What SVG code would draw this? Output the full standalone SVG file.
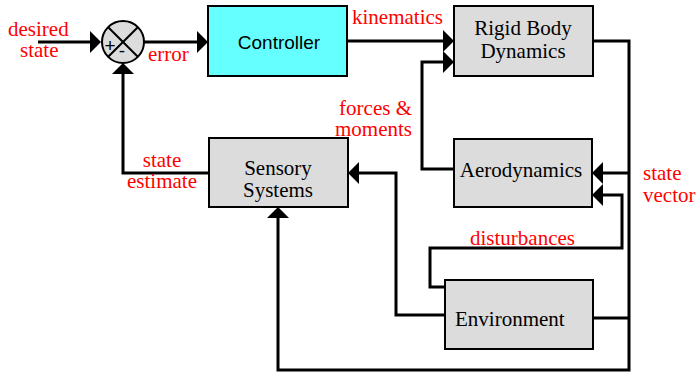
<svg xmlns="http://www.w3.org/2000/svg" width="698" height="372" viewBox="0 0 698 372">
  <style>
    .box { fill: #dcdcdc; stroke: #000; stroke-width: 2; }
    .ctrl { fill: #66ffff; stroke: #000; stroke-width: 2; }
    .serif { font-family: "Liberation Serif", "Times New Roman", serif; font-size: 21px; }
    .sans { font-family: "Liberation Sans", Arial, sans-serif; font-size: 19px; }
    .lbl { fill: #ff0000; }
    .blk { fill: #000; }
    .wire { fill: none; stroke: #000; stroke-width: 3; stroke-linejoin: miter; }
  </style>
  <defs>
    <marker id="arrow" viewBox="0 0 11 22" refX="0" refY="11" markerWidth="11" markerHeight="22" markerUnits="userSpaceOnUse" orient="auto">
      <path d="M0,0 L11,11 L0,22 Z" fill="#000"/>
    </marker>
  </defs>

  <!-- connectors -->
  <g id="connectors">
    <path class="wire" d="M38,42 H90" marker-end="url(#arrow)"/>
    <path class="wire" d="M144,42 H197" marker-end="url(#arrow)"/>
    <path class="wire" d="M347,41 H443" marker-end="url(#arrow)"/>
    <path class="wire" d="M454,169 H422 V62 H443" marker-end="url(#arrow)"/>
    <path class="wire" d="M593,41 H629 V370 H278 V218" marker-end="url(#arrow)"/>
    <path class="wire" d="M629,173 H603" marker-end="url(#arrow)"/>
    <path class="wire" d="M593,318 H629"/>
    <path class="wire" d="M445,287 H430 V248 H622 V195 H603" marker-end="url(#arrow)"/>
    <path class="wire" d="M445,315 H396 V173 H359" marker-end="url(#arrow)"/>
    <path class="wire" d="M209,173 H123 V74" marker-end="url(#arrow)"/>
  </g>

  <!-- summing junction -->
  <g id="sum">
    <circle cx="123" cy="42" r="21" fill="#dcdcdc" stroke="#000" stroke-width="2"/>
    <path d="M108.2,27.2 L137.8,56.8 M137.8,27.2 L108.2,56.8" stroke="#000" stroke-width="2"/>
    <text class="sans blk" x="110" y="52" text-anchor="middle" font-size="17">+</text>
    <text class="sans blk" x="122" y="57" text-anchor="middle" font-size="17">-</text>
  </g>

  <g id="controller">
    <rect class="ctrl" x="208" y="6" width="139" height="70"/>
    <text class="sans blk" x="279" y="49" text-anchor="middle">Controller</text>
  </g>

  <g id="rigid-body">
    <rect class="box" x="454" y="6" width="139" height="70"/>
    <text class="serif blk" x="523" y="35" text-anchor="middle">Rigid Body</text>
    <text class="serif blk" x="523" y="58" text-anchor="middle">Dynamics</text>
  </g>

  <g id="aerodynamics">
    <rect class="box" x="454" y="139" width="138" height="68"/>
    <text class="serif blk" x="521" y="177" text-anchor="middle">Aerodynamics</text>
  </g>

  <g id="sensory">
    <rect class="box" x="209" y="138" width="139" height="69"/>
    <text class="serif blk" x="278" y="175" text-anchor="middle">Sensory</text>
    <text class="serif blk" x="278" y="197" text-anchor="middle">Systems</text>
  </g>

  <g id="environment">
    <rect class="box" x="445" y="280" width="148" height="69"/>
    <text class="serif blk" x="455" y="326">Environment</text>
  </g>

  <!-- signal labels -->
  <g id="labels">
    <text class="serif lbl" x="8" y="36">desired</text>
    <text class="serif lbl" x="20" y="57">state</text>
    <text class="serif lbl" x="148" y="61">error</text>
    <text class="serif lbl" x="352" y="24">kinematics</text>
    <text class="serif lbl" x="412" y="115" text-anchor="end">forces &amp;</text>
    <text class="serif lbl" x="412" y="136" text-anchor="end">moments</text>
    <text class="serif lbl" x="162" y="167" text-anchor="middle">state</text>
    <text class="serif lbl" x="162" y="188" text-anchor="middle">estimate</text>
    <text class="serif lbl" x="643" y="180">state</text>
    <text class="serif lbl" x="643" y="202">vector</text>
    <text class="serif lbl" x="470" y="245">disturbances</text>
  </g>
</svg>
